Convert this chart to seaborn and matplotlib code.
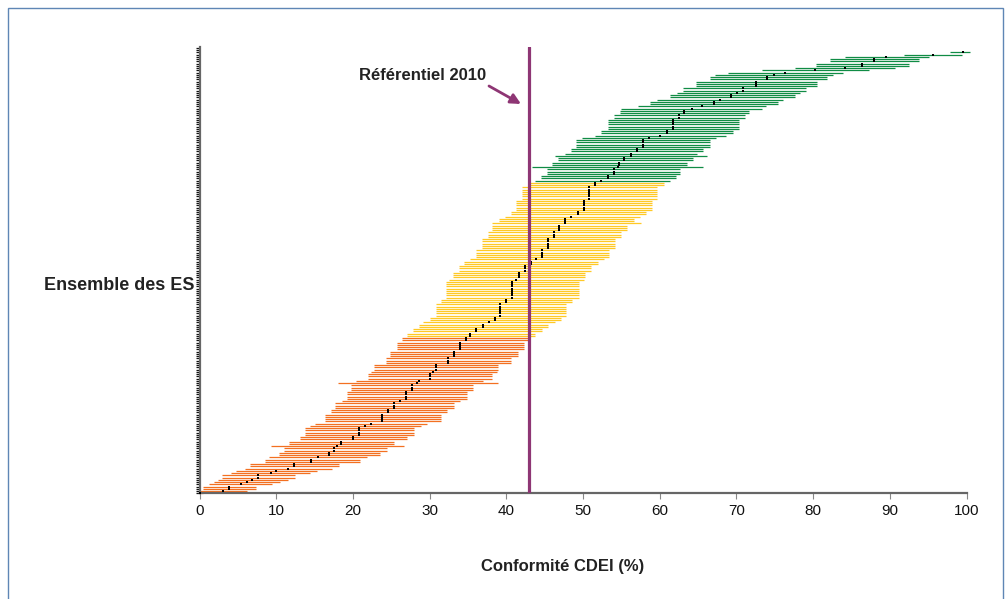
import numpy as np
import pandas as pd
import matplotlib
matplotlib.use("Agg")
import matplotlib.pyplot as plt
from matplotlib.patches import Rectangle
import seaborn as sns

# ---- data (listed from the top row of the chart down to the bottom row) ----
lower = [
    97.9, 91.9, 84.1, 82.2, 82.2, 80.4, 80.4, 77.7, 73.4, 68.9,
    67.2, 66.5, 66.5, 64.7, 64.7, 64.7, 63.0, 63.0, 62.2, 61.4,
    61.4, 59.7, 58.8, 58.8, 57.2, 55.0,
    54.8, 54.8, 54.0, 54.0, 53.2, 53.2, 53.2, 53.2, 53.2, 52.4,
    52.4, 51.6, 49.9, 49.1, 49.1, 49.1, 49.1, 48.4, 48.4, 47.6,
    46.3, 46.8, 46.8, 46.0, 46.0, 43.4, 45.3, 45.3,
    45.3, 44.5, 44.5, 43.7, 42.8, 42.8, 42.1, 42.1, 42.1, 42.1,
    42.1, 42.1, 41.3, 41.3, 41.3, 41.3, 41.3, 40.6, 40.6, 39.8,
    39.0, 39.0, 38.1, 38.2, 38.2, 38.2, 37.6, 37.6,
    37.6, 36.8, 36.8, 36.8, 36.8, 36.8, 36.0, 36.0, 36.0, 36.0,
    35.3, 34.5, 34.5, 33.8, 33.8, 33.8, 33.0, 33.0, 33.0, 32.5,
    32.2, 32.2, 32.2, 32.2, 32.2, 32.2, 32.2, 32.2,
    31.5, 31.5, 30.8, 30.8, 30.8, 30.8, 30.8, 30.8, 30.0, 30.0,
    29.2, 28.6, 28.6, 27.8, 27.8, 27.1, 27.1, 26.4, 26.4, 25.7,
    25.7, 25.7, 25.7, 24.9, 24.9, 24.9, 24.3, 24.3,
    24.3, 22.7, 22.7, 22.7, 22.3, 22.0, 22.0, 22.0, 20.4, 18.0,
    19.8, 19.8, 19.8, 19.2, 19.2, 19.2, 19.2, 18.6, 17.7, 17.7,
    17.7, 17.1, 17.1, 16.4, 16.4, 16.4, 16.4, 15.0,
    14.4, 13.7, 13.7, 13.7, 13.7, 13.1, 13.1, 11.7, 11.7, 9.3,
    11.0, 11.0, 10.4, 10.4, 9.0, 8.5, 8.5, 6.6, 6.6, 5.9,
    4.8, 4.1, 2.9, 2.9, 2.4, 1.9, 1.3, 0.5, 0.5, 0.0, 0.0,
]
upper = [
    100.4, 99.4, 95.1, 93.8, 93.8, 92.5, 92.5, 90.7, 87.3, 83.9,
    82.6, 81.8, 81.8, 80.5, 80.5, 80.5, 79.1, 79.1, 78.3, 77.6,
    77.6, 76.1, 75.4, 75.4, 73.9, 73.3,
    71.7, 71.7, 71.1, 71.1, 70.3, 70.3, 70.3, 70.3, 70.3, 69.5,
    69.5, 68.7, 67.3, 66.5, 66.5, 66.5, 66.5, 65.7, 65.7, 64.9,
    66.2, 64.3, 64.3, 63.5, 63.5, 65.7, 62.7, 62.7,
    62.7, 62.1, 62.1, 61.3, 60.5, 60.5, 59.7, 59.7, 59.7, 59.7,
    59.7, 59.7, 59.0, 59.0, 59.0, 59.0, 59.0, 58.2, 58.2, 57.4,
    56.6, 56.6, 57.5, 55.8, 55.8, 55.8, 55.0, 55.0,
    55.0, 54.2, 54.2, 54.2, 54.2, 54.2, 53.4, 53.4, 53.4, 53.4,
    52.7, 51.9, 51.9, 51.1, 51.1, 51.1, 50.3, 50.3, 50.3, 50.1,
    49.5, 49.5, 49.5, 49.5, 49.5, 49.5, 49.5, 49.5,
    48.6, 48.6, 47.8, 47.8, 47.8, 47.8, 47.8, 47.8, 47.1, 47.1,
    46.3, 45.5, 45.5, 44.6, 44.6, 43.8, 43.8, 42.9, 42.9, 42.3,
    42.3, 42.3, 42.3, 41.5, 41.5, 41.5, 40.6, 40.6,
    40.6, 38.9, 38.9, 38.9, 38.8, 38.1, 38.1, 38.1, 36.9, 38.9,
    35.6, 35.6, 35.6, 34.9, 34.9, 34.9, 34.9, 34.0, 33.2, 33.2,
    33.2, 32.3, 32.3, 31.5, 31.5, 31.5, 31.5, 29.6,
    28.9, 28.0, 28.0, 28.0, 28.0, 27.1, 27.1, 25.4, 25.4, 26.7,
    24.4, 24.4, 23.5, 23.5, 21.8, 20.9, 20.9, 18.2, 18.2, 17.3,
    15.3, 14.4, 12.4, 12.4, 11.5, 10.5, 9.4, 7.4, 7.4, 6.2, 0.4,
]
estimate = [
    99.6, 95.6, 89.5, 87.9, 87.9, 86.4, 86.4, 84.2, 80.3, 76.4,
    74.9, 74.0, 74.0, 72.5, 72.5, 72.5, 70.9, 70.9, 70.1, 69.3,
    69.3, 67.9, 67.1, 67.1, 65.5, 64.2,
    63.2, 63.2, 62.5, 62.5, 61.7, 61.7, 61.7, 61.7, 61.7, 60.9,
    60.9, 60.1, 58.6, 57.8, 57.8, 57.8, 57.8, 57.0, 57.0, 56.2,
    56.2, 55.4, 55.4, 54.7, 54.7, 54.5, 54.0, 54.0,
    54.0, 53.2, 53.2, 52.4, 51.6, 51.6, 50.8, 50.8, 50.8, 50.8,
    50.8, 50.8, 50.1, 50.1, 50.1, 50.1, 50.1, 49.3, 49.3, 48.5,
    47.7, 47.7, 47.7, 46.9, 46.9, 46.9, 46.2, 46.2,
    46.2, 45.5, 45.5, 45.5, 45.5, 45.5, 44.7, 44.7, 44.7, 44.7,
    43.9, 43.2, 43.2, 42.4, 42.4, 42.4, 41.6, 41.6, 41.6, 41.3,
    40.8, 40.8, 40.8, 40.8, 40.8, 40.8, 40.8, 40.8,
    40.0, 40.0, 39.2, 39.2, 39.2, 39.2, 39.2, 39.2, 38.5, 38.5,
    37.7, 37.0, 37.0, 36.1, 36.1, 35.3, 35.3, 34.7, 34.7, 34.0,
    34.0, 34.0, 34.0, 33.2, 33.2, 33.2, 32.4, 32.4,
    32.4, 30.8, 30.8, 30.8, 30.4, 30.0, 30.0, 30.0, 28.6, 28.3,
    27.7, 27.7, 27.7, 26.9, 26.9, 26.9, 26.9, 26.1, 25.4, 25.4,
    25.4, 24.6, 24.6, 23.8, 23.8, 23.8, 23.8, 22.3,
    21.6, 20.8, 20.8, 20.8, 20.8, 20.0, 20.0, 18.4, 18.4, 17.9,
    17.6, 17.6, 16.9, 16.9, 15.4, 14.6, 14.6, 12.3, 12.3, 11.5,
    10.0, 9.3, 7.6, 7.6, 6.9, 6.2, 5.4, 3.8, 3.8, 3.0, 0.1,
]
reference_value = 43.0
reference_label = "Référentiel 2010"
x_ticks = [0, 10, 20, 30, 40, 50, 60, 70, 80, 90, 100]
x_label = "Conformité CDEI (%)"
y_label = "Ensemble des ES"

# ---- build table (bottom row = position 0) ----
df = pd.DataFrame({"lo": lower[::-1], "hi": upper[::-1], "est": estimate[::-1]})
df["row"] = np.arange(len(df))
COL_BELOW, COL_IN, COL_ABOVE = "#F37021", "#FFC926", "#108C45"
df["colour"] = np.where(df["hi"] < reference_value, COL_BELOW,
                        np.where(df["lo"] > reference_value, COL_ABOVE, COL_IN))

sns.set_theme(style="white")
plt.rcParams["font.family"] = ["Liberation Sans", "DejaVu Sans"]

W, H = 1006, 599
fig = plt.figure(figsize=(W / 100, H / 100), dpi=100)
ax = fig.add_axes([199.5 / W, (H - 493.3) / H, 767.0 / W, 446.3 / H])

ax.hlines(df["row"], df["lo"], df["hi"], colors=df["colour"], lw=0.9,
          zorder=2, clip_on=False)
sns.scatterplot(data=df, x="est", y="row", marker="s", s=3, color="black",
                linewidth=0, ax=ax, zorder=3, clip_on=False)
ax.axvline(reference_value, color="#8E3674", lw=2.3, zorder=4)

ax.set_xlim(0, 100)
ax.set_ylim(0, 198.4)
ax.set_xticks(x_ticks)
ax.set_xticklabels([str(t) for t in x_ticks], fontsize=11, color="#111111")
ax.set_yticks(np.arange(0, 199))
ax.set_yticklabels([])
ax.tick_params(axis="y", direction="out", length=3, width=0.9, color="#111111", left=True)
ax.tick_params(axis="x", direction="out", length=4, width=0.8, color="#888888", pad=4, bottom=True)
ax.set_xlabel("")
ax.set_ylabel("")
for side in ["top", "right"]:
    ax.spines[side].set_visible(False)
for side in ["left", "bottom"]:
    ax.spines[side].set_color("#666666")
    ax.spines[side].set_linewidth(1.6)

# labels
fig.text(195 / W, 1 - 285 / H, y_label, ha="right", va="center",
         fontsize=13, fontweight="bold", color="#222222")
fig.text(563 / W, 1 - 566 / H, x_label, ha="center", va="center",
         fontsize=12, fontweight="bold", color="#222222")
fig.text(486 / W, 1 - 75 / H, reference_label, ha="right", va="center",
         fontsize=12, fontweight="bold", color="#222222")
ax.annotate("", xy=(521 / W, 1 - 104 / H), xytext=(489 / W, 1 - 86 / H),
            xycoords="figure fraction", textcoords="figure fraction",
            arrowprops=dict(arrowstyle="-|>,head_length=0.5,head_width=0.25",
                            color="#8E3674", lw=2, shrinkA=0, shrinkB=0))

# frame around the figure
fig.patches.append(Rectangle((8 / W, -0.05), 995 / W, 1 - 8 / H + 0.05,
                             transform=fig.transFigure, fill=False,
                             edgecolor="#5F86B5", lw=1.0))

fig.savefig("out.png", dpi=100)
